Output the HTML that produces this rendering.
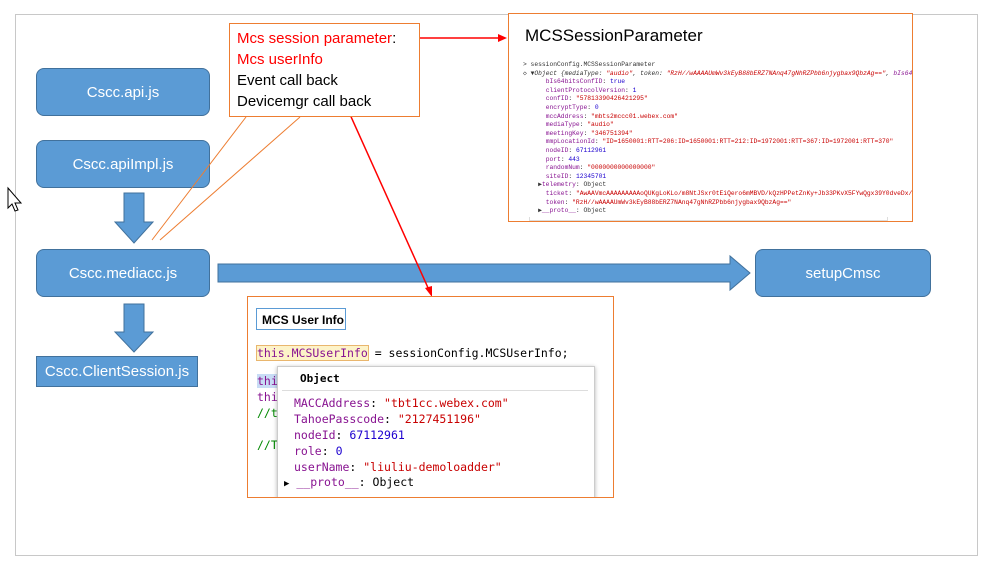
<!DOCTYPE html><html><head><style>
body{margin:0;width:982px;height:562px;background:#fff;position:relative;overflow:hidden;font-family:"Liberation Sans",sans-serif}
.a{position:absolute}
.b{position:absolute;background:#5B9BD5;border:1px solid #41719C;border-radius:8px;color:#fff;font-size:15px;display:flex;align-items:center;justify-content:center;box-sizing:border-box;white-space:nowrap}
.m{font-family:"Liberation Mono",monospace;font-size:6.3px;white-space:nowrap;line-height:8.6px}
.c{font-family:"DejaVu Sans Mono",monospace;font-size:11.5px;white-space:nowrap;line-height:16px}
.p{color:#881391}.r{color:#C80000}.n{color:#1C00CF}
</style></head><body>
<div class="a" style="left:15px;top:14px;width:961px;height:540px;border:1px solid #c8c8c8"></div>
<div class="b" style="left:36px;top:68px;width:174px;height:48px">Cscc.api.js</div>
<div class="b" style="left:36px;top:140px;width:174px;height:48px">Cscc.apiImpl.js</div>
<div class="b" style="left:36px;top:249px;width:174px;height:48px">Cscc.mediacc.js</div>
<div class="b" style="left:36px;top:356px;width:162px;height:31px;border-radius:0">Cscc.ClientSession.js</div>
<div class="b" style="left:755px;top:249px;width:176px;height:48px">setupCmsc</div>
<svg class="a" style="left:0;top:0" width="982" height="562">
<polygon points="124,193 144,193 144,222 153,222 134,243 115,222 124,222" fill="#5B9BD5" stroke="#41719C"/>
<polygon points="124,304 144,304 144,332 153,332 134,352 115,332 124,332" fill="#5B9BD5" stroke="#41719C"/>
<polygon points="218,264 730,264 730,256 750,273 730,290 730,282 218,282" fill="#5B9BD5" stroke="#41719C"/>
<line x1="246" y1="117" x2="152" y2="240" stroke="#ED7D31"/>
<line x1="300" y1="117" x2="160" y2="240" stroke="#ED7D31"/>
<line x1="413" y1="38" x2="500" y2="38" stroke="#f00" stroke-width="1.5"/>
<polygon points="507,38 498,34 498,42" fill="#f00"/>
<line x1="330" y1="70" x2="429" y2="290" stroke="#f00" stroke-width="1.5"/>
<polygon points="432,297 425,288 432,286" fill="#f00"/>
<path d="M8,188 L8,208 L12,204 L15,211 L18,210 L15,203 L21,203 Z" fill="#fff" stroke="#000"/>
</svg>
<div class="a" style="left:229px;top:23px;width:191px;height:94px;border:1px solid #ED7D31;background:#fff;font-size:15px;line-height:21px;padding:4px 7px;box-sizing:border-box">
<span style="color:#f00">Mcs session parameter</span>:<br><span style="color:#f00">Mcs userInfo</span><br>Event call back<br>Devicemgr call back</div>
<div class="a" style="left:508px;top:13px;width:405px;height:209px;border:1.5px solid #ED7D31;background:#fff;box-sizing:border-box;overflow:hidden">
<div class="a" style="left:16px;top:12px;font-size:17px">MCSSessionParameter</div>
<div class="a m" style="left:14px;top:47px;color:#333">
&gt; sessionConfig.MCSSessionParameter<br>
◇ ▼<i>Object {mediaType: <span class="r">"audio"</span>, token: <span class="r">"RzH//wAAAAUmWv3kEyB88bERZ7NAnq47gNhRZPbb6njygbax9QbzAg=="</span>, <span class="p">bIs64bitsConf</span></i><br>
&nbsp;&nbsp;&nbsp;&nbsp;&nbsp;&nbsp;<span class="p">bIs64bitsConfID</span>: <span class="n">true</span><br>
&nbsp;&nbsp;&nbsp;&nbsp;&nbsp;&nbsp;<span class="p">clientProtocolVersion</span>: <span class="n">1</span><br>
&nbsp;&nbsp;&nbsp;&nbsp;&nbsp;&nbsp;<span class="p">confID</span>: <span class="r">"57813390426421295"</span><br>
&nbsp;&nbsp;&nbsp;&nbsp;&nbsp;&nbsp;<span class="p">encryptType</span>: <span class="n">0</span><br>
&nbsp;&nbsp;&nbsp;&nbsp;&nbsp;&nbsp;<span class="p">mccAddress</span>: <span class="r">"mbts2mccc01.webex.com"</span><br>
&nbsp;&nbsp;&nbsp;&nbsp;&nbsp;&nbsp;<span class="p">mediaType</span>: <span class="r">"audio"</span><br>
&nbsp;&nbsp;&nbsp;&nbsp;&nbsp;&nbsp;<span class="p">meetingKey</span>: <span class="r">"346751394"</span><br>
&nbsp;&nbsp;&nbsp;&nbsp;&nbsp;&nbsp;<span class="p">mmpLocationId</span>: <span class="r">"ID=1650001:RTT=206:ID=1650001:RTT=212:ID=1972001:RTT=367:ID=1972001:RTT=370"</span><br>
&nbsp;&nbsp;&nbsp;&nbsp;&nbsp;&nbsp;<span class="p">nodeID</span>: <span class="n">67112961</span><br>
&nbsp;&nbsp;&nbsp;&nbsp;&nbsp;&nbsp;<span class="p">port</span>: <span class="n">443</span><br>
&nbsp;&nbsp;&nbsp;&nbsp;&nbsp;&nbsp;<span class="p">randomNum</span>: <span class="r">"0000000000000000"</span><br>
&nbsp;&nbsp;&nbsp;&nbsp;&nbsp;&nbsp;<span class="p">siteID</span>: <span class="n">12345701</span><br>
&nbsp;&nbsp;&nbsp;&nbsp;▶<span class="p">telemetry</span>: Object<br>
&nbsp;&nbsp;&nbsp;&nbsp;&nbsp;&nbsp;<span class="p">ticket</span>: <span class="r">"AwAAVmcAAAAAAAAAoQUKgLoKLo/m8NtJSxr0tEiQero6mMBVD/kQzHPPetZnKy+Jb33PKvX5FYwQgx39Y0dveDx//vo/PXf6RI</span><br>
&nbsp;&nbsp;&nbsp;&nbsp;&nbsp;&nbsp;<span class="p">token</span>: <span class="r">"RzH//wAAAAUmWv3kEyB88bERZ7NAnq47gNhRZPbb6njygbax9QbzAg=="</span><br>
&nbsp;&nbsp;&nbsp;&nbsp;▶<span class="p">__proto__</span>: Object</div>
<div class="a" style="left:20px;top:203px;width:357px;height:3px;border:1px solid #ddd;border-top:none"></div>
</div>
<div class="a" style="left:247px;top:296px;width:367px;height:202px;border:1.5px solid #ED7D31;background:#fff;box-sizing:border-box;overflow:hidden">
<div class="a" style="left:8px;top:11px;width:90px;height:22px;border:1px solid #5B9BD5;font-size:12px;font-weight:bold;line-height:22px;padding-left:5px;box-sizing:border-box">MCS User Info</div>
<div class="a c" style="left:9px;top:48px"><span class="p" style="background:#fdf3c8;outline:1px solid #e9b66e">this.MCSUserInfo</span> = sessionConfig.MCSUserInfo;</div>
<div class="a c" style="left:9px;top:76px"><span class="p" style="background:#c8dcf5">thi</span><br><span class="p">thi</span><br><span style="color:#080">//t</span><br><br><span style="color:#080">//T</span><br><br><br><br><br><span class="p">thi</span></div>
<div class="a" style="left:29px;top:69px;width:316px;height:140px;background:#fff;border:1px solid #ccc;box-shadow:0 1px 4px rgba(0,0,0,.3)">
<div class="a c" style="left:22px;top:4px;font-weight:bold;font-size:11px">Object</div>
<div class="a" style="left:4px;top:23px;width:306px;border-top:1px solid #ddd"></div>
<div class="a c" style="left:16px;top:28px"><span class="p">MACCAddress</span>: <span class="r">"tbt1cc.webex.com"</span><br><span class="p">TahoePasscode</span>: <span class="r">"2127451196"</span><br><span class="p">nodeId</span>: <span class="n">67112961</span><br><span class="p">role</span>: <span class="n">0</span><br><span class="p">userName</span>: <span class="r">"liuliu-demoloadder"</span></div>
<div class="a c" style="left:6px;top:107px"><span style="font-size:9px">▶</span> <span class="p">__proto__</span>: Object</div>
</div>
</div>
</body></html>
